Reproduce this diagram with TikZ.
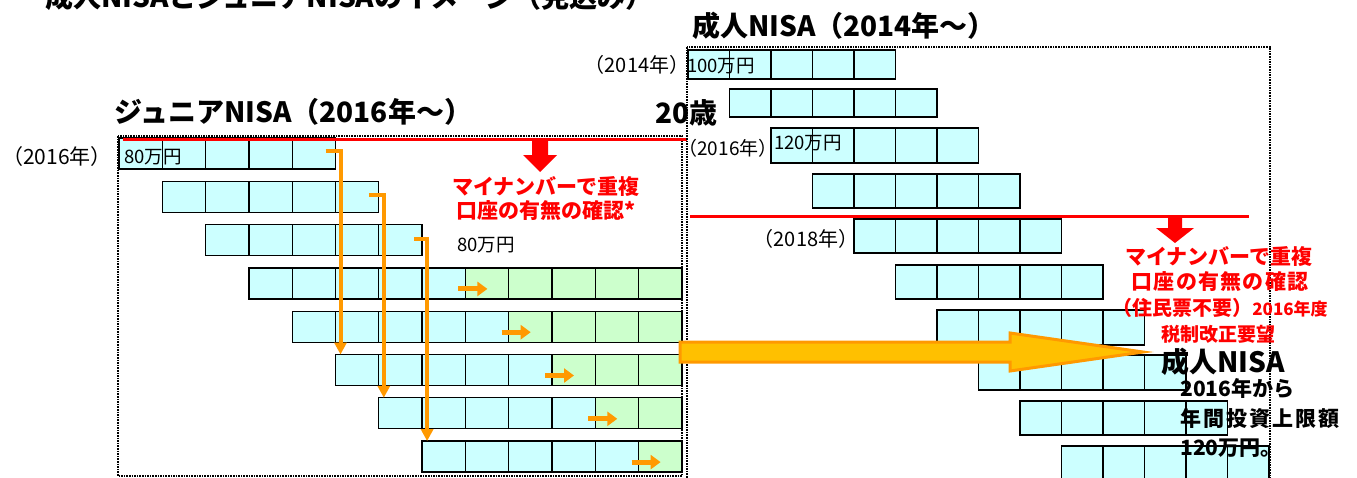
\documentclass[tikz,border=0pt]{standalone}
\usepackage{fontspec}
\setmainfont{Noto Sans CJK JP}
\usetikzlibrary{arrows.meta}
\definecolor{cellcyan}{HTML}{CCFFFF}
\definecolor{cellgreen}{HTML}{CCFFCC}
\definecolor{orng}{HTML}{FF9900}
\definecolor{goldfill}{HTML}{FFC000}
\definecolor{nred}{HTML}{FF0000}
\begin{document}
\begin{tikzpicture}[x=1pt,y=-1pt,
  cell/.style={draw=black,line width=1.3pt,fill=cellcyan,inner sep=0pt,outer sep=0pt,anchor=north west,minimum height=31pt},
  jcell/.style={cell,minimum width=43.3pt},
  acell/.style={cell,minimum width=41.5pt},
  gcell/.style={jcell,fill=cellgreen},
  lbl/.style={inner sep=0pt,font=\fontsize{20}{22}\selectfont},
  clbl/.style={inner sep=0pt,font=\fontsize{18.5}{20}\selectfont},
  head/.style={inner sep=0pt,font=\bfseries\fontsize{28}{30}\selectfont},
  redtxt/.style={inner sep=0pt,text=nred,font=\bfseries\fontsize{21}{24}\selectfont,align=center},
  blktxt/.style={inner sep=0pt,text=black,font=\bfseries\fontsize{21}{24}\selectfont,anchor=west},
  oarrow/.style={draw=orng,line width=4pt,-{Triangle[length=12pt,width=12pt]}},
  sarrow/.style={draw=orng,line width=5pt,-{Triangle[length=10pt,width=14pt]}},
  dotbox/.style={draw=black,line width=1.6pt,densely dotted},
  redline/.style={draw=nred,line width=3pt},
]
\useasboundingbox (0,0) rectangle (1357,477);
\clip (0,0) rectangle (1357,477);

% page title (cut at top, as in the reference)
\node[head,anchor=base west] (title) at (45,7) {成人NISAとジュニアNISAのイメージ（見込み）};

% ---------------- Junior NISA ----------------
\node[head,anchor=west] (jtitle) at (114,112) {ジュニアNISA（2016年～）};
\draw[dotbox] (118,136) rectangle (682,476);
\foreach \i in {0,...,7} {
  \foreach \k in {1,...,5} {
    \node[jcell] (j\i-\k) at ({119+43.3*(\i+\k-1)},{138+43.3*\i}) {};
  }
}
\foreach \i [evaluate=\i as \n using int(13-\i)] in {3,...,7} {
  \foreach \k in {6,...,\n} {
    \node[gcell] (j\i-\k) at ({119+43.3*(\i+\k-1)},{138+43.3*\i}) {};
  }
  \draw[sarrow] ([xshift=-7pt,yshift=-5.5pt]j\i-6.west) -- ++(29,0);
}
\node[lbl,font=\fontsize{21}{23}\selectfont] (jyear) at (57,157) {（2016年）};
\node[clbl] (j80a) at (153,157) {80万円};
\node[clbl] (j80b) at (486,245) {80万円};

\draw[oarrow] ([xshift=-10pt,yshift=3pt]j0-5.east) -| ([xshift=5pt]j5-1.north west);
\draw[oarrow] ([xshift=-10pt,yshift=2pt]j1-5.east) -| ([xshift=5pt]j6-1.north west);
\draw[oarrow] ([xshift=-8pt,yshift=1.5pt]j2-5.east) -| ([xshift=5pt]j7-1.north west);

\draw[redline] (123,139) -- (687,139);
\fill[nred] (532,140) -- (548,140) -- (548,155) -- (557,155) -- (540,172) -- (523,155) -- (532,155) -- cycle;
\node[redtxt] (jnote) at (546,199) {マイナンバーで重複\\口座の有無の確認*};

% ---------------- Adult NISA ----------------
\node[head,anchor=west] (atitle) at (692,26) {成人NISA（2014年～）};
\node[head,anchor=west] (age) at (655,113) {20歳};
\draw[dotbox] (687,47) rectangle (1270,520);
\foreach \j/\t/\h in {0/50/29,1/89/28,2/128/35,3/174/34,4/219/34,5/265/34,6/310/35,7/355/35,8/401/34,9/446/34} {
  \foreach \k in {1,...,5} {
    \node[acell,minimum height=\h pt] (a\j-\k) at ({688+41.5*(\j+\k-1)},\t) {};
  }
}
\node[lbl] (ay14) at (637,65) {（2014年）};
\node[clbl] (a100) at (721,66) {100万円};
\node[lbl,font=\fontsize{19}{21}\selectfont] (ay16) at (728,148) {（2016年）};
\node[clbl] (a120) at (808,143) {120万円};
\node[lbl] (ay18) at (806,239) {（2018年）};

\draw[redline] (690,216) -- (1249,216);
\fill[nred] (1168,217) -- (1182,217) -- (1182,228) -- (1194,228) -- (1175,243) -- (1156,228) -- (1168,228) -- cycle;
\node[redtxt] (an1) at (1219,257) {マイナンバーで重複};
\node[redtxt,font=\bfseries\fontsize{21}{24}\selectfont\addfontfeatures{LetterSpace=6}] (an2) at (1220,282) {口座の有無の確認};
\node[redtxt] (an3) at (1220,308) {{\fontsize{20}{22}\selectfont （住民票不要）}{\fontsize{17}{19}\selectfont 2016年度}};
\node[redtxt,font=\bfseries\fontsize{19}{21}\selectfont] (an4) at (1218,334) {税制改正要望};

% big arrow from junior to adult NISA
\filldraw[fill=goldfill,draw=orng,line width=3pt,line join=miter]
  (680,342) -- (1010,342) -- (1010,333) -- (1143,352) -- (1010,371) -- (1010,362) -- (680,362) -- cycle;

\node[inner sep=0pt,font=\bfseries\fontsize{28}{30}\selectfont] (adult) at (1223,362) {成人NISA};
\node[blktxt] (l1) at (1180,389) {2016年から};
\node[blktxt,font=\bfseries\fontsize{21}{24}\selectfont\addfontfeatures{LetterSpace=10}] (l2) at (1180,419) {年間投資上限額};
\node[blktxt] (l3) at (1180,448) {120万円。};
\end{tikzpicture}
\end{document}
